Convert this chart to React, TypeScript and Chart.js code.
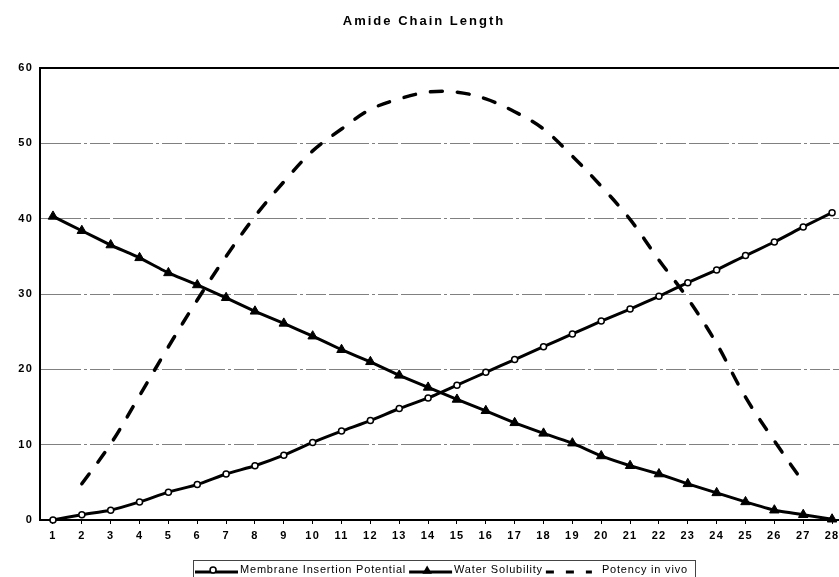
import React, { useEffect, useRef } from "react";
import { Chart, registerables } from "chart.js";

Chart.register(...registerables);

const chartTitle = "Amide Chain Length";
const chainLength = [1, 2, 3, 4, 5, 6, 7, 8, 9, 10, 11, 12, 13, 14, 15, 16, 17, 18, 19, 20, 21, 22, 23, 24, 25, 26, 27, 28];
const membraneInsertion = [0, 0.7, 1.3, 2.4, 3.7, 4.7, 6.1, 7.2, 8.6, 10.3, 11.8, 13.2, 14.8, 16.2, 17.9, 19.6, 21.3, 23.0, 24.7, 26.4, 28.0, 29.7, 31.5, 33.2, 35.1, 36.9, 38.9, 40.8];
const waterSolubility = [40.3, 38.4, 36.5, 34.8, 32.8, 31.2, 29.5, 27.7, 26.1, 24.4, 22.6, 21.0, 19.2, 17.6, 16.0, 14.5, 12.9, 11.5, 10.2, 8.5, 7.2, 6.1, 4.8, 3.6, 2.4, 1.3, 0.7, 0.1];
const potencyInVivo: (number | null)[] = [null, 4.8, 10.1, 16.5, 23.0, 29.2, 35.0, 40.3, 44.9, 49.0, 51.9, 54.5, 55.9, 56.8, 56.8, 55.9, 54.2, 51.9, 48.3, 44.3, 39.9, 34.5, 29.4, 23.4, 16.3, 10.5, 5.0, null];
const yTickValues = [0, 10, 20, 30, 40, 50, 60];
const seriesLabels = ["Membrane Insertion Potential", "Water Solubility", "Potency in vivo"];

const FONT = '"Liberation Sans", Arial, Helvetica, sans-serif';

const toPoints = (ys: (number | null)[]) => chainLength.map((x, i) => ({ x, y: ys[i] }));

const titleLegendPlugin = {
  id: "titleLegend",
  beforeDraw(chart: any) {
    (chart.ctx as any).letterSpacing = "1.2px";
  },
  afterDraw(chart: any) {
    const ctx = chart.ctx as CanvasRenderingContext2D;
    ctx.save();
    // title
    ctx.fillStyle = "#000";
    ctx.font = `bold 13px ${FONT}`;
    (ctx as any).letterSpacing = "2px";
    ctx.textAlign = "center";
    ctx.textBaseline = "middle";
    ctx.fillText(chartTitle, 424, 21);

    // legend frame
    ctx.strokeStyle = "#444";
    ctx.lineWidth = 1;
    ctx.setLineDash([]);
    ctx.strokeRect(193.5, 560.5, 502, 30);

    // legend entries
    ctx.font = `11px ${FONT}`;
    (ctx as any).letterSpacing = "0.8px";
    ctx.textAlign = "left";
    ctx.textBaseline = "alphabetic";
    const yLine = 572;
    let x = 195;
    chart.data.datasets.forEach((ds: any, i: number) => {
      const sampleW = i === 2 ? 46 : 43;
      ctx.save();
      ctx.strokeStyle = "#000";
      ctx.lineWidth = 3;
      if (ds.borderDash && ds.borderDash.length) {
        ctx.setLineDash([8, 12]);
        ctx.lineCap = "butt";
      }
      ctx.beginPath();
      ctx.moveTo(x, yLine);
      ctx.lineTo(x + sampleW, yLine);
      ctx.stroke();
      ctx.setLineDash([]);
      const cx = x + sampleW * 0.42;
      if (ds.pointStyle === "circle" && ds.pointRadius > 0) {
        ctx.beginPath();
        ctx.arc(cx, yLine - 2, 3, 0, Math.PI * 2);
        ctx.fillStyle = "#fff";
        ctx.fill();
        ctx.lineWidth = 1.5;
        ctx.stroke();
      } else if (ds.pointStyle === "triangle") {
        const r = 5.5;
        ctx.beginPath();
        ctx.moveTo(cx, yLine - 1 - r);
        ctx.lineTo(cx + r * 0.866, yLine - 1 + r * 0.5);
        ctx.lineTo(cx - r * 0.866, yLine - 1 + r * 0.5);
        ctx.closePath();
        ctx.fillStyle = "#000";
        ctx.fill();
      }
      ctx.restore();
      const tx = x + sampleW + (i === 2 ? 10 : 2);
      ctx.fillStyle = "#000";
      ctx.fillText(ds.label, tx, 573);
      x = tx + ctx.measureText(ds.label).width + 3;
    });
    ctx.restore();
    (ctx as any).letterSpacing = "0px";
  },
};

export default function App() {
  const canvasRef = useRef<HTMLCanvasElement | null>(null);

  useEffect(() => {
    if (!canvasRef.current) return;
    const chart = new Chart(canvasRef.current, {
      type: "line",
      data: {
        datasets: [
          {
            label: seriesLabels[0],
            data: toPoints(membraneInsertion),
            borderColor: "#000",
            borderWidth: 3,
            pointStyle: "circle",
            pointRadius: 3,
            pointBorderWidth: 1.5,
            pointBackgroundColor: "#fff",
            pointBorderColor: "#000",
            tension: 0.15,
            clip: false,
          },
          {
            label: seriesLabels[1],
            data: toPoints(waterSolubility),
            borderColor: "#000",
            borderWidth: 3,
            pointStyle: "triangle",
            pointRadius: 5.5,
            pointBorderWidth: 1,
            pointBackgroundColor: "#000",
            pointBorderColor: "#000",
            tension: 0.1,
            clip: false,
          },
          {
            label: seriesLabels[2],
            data: toPoints(potencyInVivo),
            borderColor: "#000",
            borderWidth: 3.5,
            borderDash: [12, 15],
            borderCapStyle: "round",
            pointRadius: 0,
            tension: 0.35,
            clip: false,
          },
        ] as any,
      },
      options: {
        animation: false,
        responsive: true,
        maintainAspectRatio: false,
        layout: { autoPadding: false, padding: { top: 68, left: 0, right: 0, bottom: 0 } },
        plugins: {
          legend: { display: false },
          title: { display: false },
          tooltip: { enabled: false },
        },
        scales: {
          x: {
            type: "linear",
            min: 0.55,
            max: 28.24,
            afterBuildTicks: (s: any) => {
              s.ticks = chainLength.map((v) => ({ value: v }));
            },
            afterFit: (s: any) => {
              s.height = 57;
              s.paddingLeft = 0;
              s.paddingRight = 0;
            },
            ticks: {
              autoSkip: false,
              maxRotation: 0,
              color: "#000",
              padding: 5,
              font: { family: FONT, size: 11, weight: "bold" },
            },
            grid: {
              drawOnChartArea: false,
              drawTicks: true,
              tickLength: 4,
              color: "#000",
              lineWidth: 1,
            },
            border: { color: "#000", width: 2 },
          },
          y: {
            min: 0,
            max: 60,
            afterBuildTicks: (s: any) => {
              s.ticks = yTickValues.map((v) => ({ value: v }));
            },
            afterFit: (s: any) => {
              s.width = 40;
              s.paddingTop = 0;
              s.paddingBottom = 0;
            },
            ticks: {
              color: "#000",
              padding: 7,
              font: { family: FONT, size: 11, weight: "bold" },
            },
            grid: {
              drawTicks: false,
              color: (c: any) => (c.tick && (c.tick.value === 0 || c.tick.value === 60) ? "#000" : "#808080"),
              lineWidth: (c: any) => (c.tick && c.tick.value === 60 ? 2 : 1),
            },
            border: {
              color: "#000",
              width: 2,
              dash: (c: any) => (c.tick && (c.tick.value === 0 || c.tick.value === 60) ? [] : [40, 3, 3, 3, 20, 3]),
            },
          },
        },
      } as any,
      plugins: [titleLegendPlugin],
    });
    return () => chart.destroy();
  }, []);

  return (
    <div style={{ position: "absolute", left: 0, top: 0, width: 839, height: 577, background: "#fff" }}>
      <canvas ref={canvasRef} />
    </div>
  );
}
